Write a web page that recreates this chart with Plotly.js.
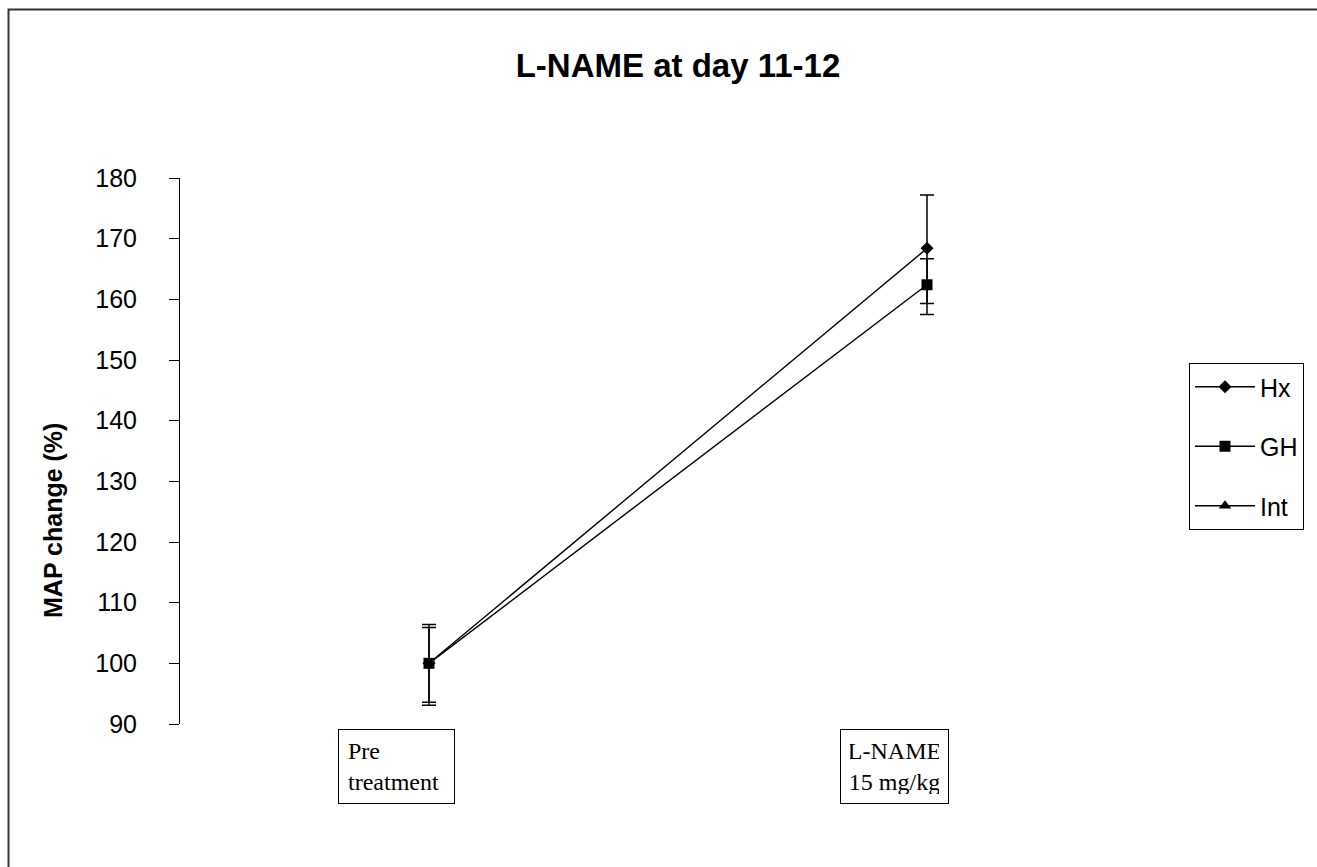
<!DOCTYPE html>
<html>
<head>
<meta charset="utf-8">
<script src="https://cdn.plot.ly/plotly-3.0.1.min.js"></script>
<style>
  html, body { margin: 0; padding: 0; background: #fff; }
  #chart { width: 1317px; height: 867px; }
</style>
</head>
<body>
<div id="chart"></div>
<script>
// ---- data ----
const categories = ["Pre treatment", "L-NAME 15 mg/kg"];
const categoryLabels = ["Pre<br>treatment", "L-NAME<br>15 mg/kg"];
const categoryAlign = ["left", "center"];

const seriesNames = ["Hx", "GH", "Int"];
const hxValues = [100, 168.4];
const hxErrPlus = [6.4, 8.8];
const hxErrMinus = [6.4, 9.1];

const ghValues = [100, 162.4];
const ghErrPlus = [5.9, 4.3];
const ghErrMinus = [6.9, 4.9];

const intValues = [null, null];   // no visible points for Int in the reference

const yTickValues = [90, 100, 110, 120, 130, 140, 150, 160, 170, 180];

// ---- chart ----
const sans = "Liberation Sans, Arial, sans-serif";
const serif = "Liberation Serif, Times New Roman, serif";

function trace(name, y, symbol, size, ep, em, group) {
  const t = {
    type: "scatter",
    mode: "lines+markers",
    name: name,
    x: categories,
    y: y,
    legendgroup: group,
    line: { color: "#000", width: 1.4 },
    marker: { symbol: symbol, size: size, color: "#000" },
    cliponaxis: false
  };
  if (ep) {
    t.error_y = {
      type: "data", symmetric: false, array: ep, arrayminus: em,
      color: "#000", thickness: 1.5, width: 7
    };
  }
  return t;
}

const data = [
  trace(seriesNames[0], hxValues, "diamond", 10, hxErrPlus, hxErrMinus, "g1"),
  trace(seriesNames[1], ghValues, "square", 11, ghErrPlus, ghErrMinus, "g2"),
  trace(seriesNames[2], intValues, "triangle-up", 11, null, null, "g3")
];

const annotations = categories.map((c, i) => ({
  x: c, xref: "x",
  y: 0, yref: "paper",
  yanchor: "top", xanchor: "center",
  xshift: -33, yshift: -5,
  text: categoryLabels[i],
  align: categoryAlign[i],
  showarrow: false,
  font: { family: serif, size: 24, color: "#000" },
  bordercolor: "#000", borderwidth: 1, borderpad: 9,
  width: i === 0 ? 97 : 89,
  height: 55,
  bgcolor: "#fff"
}));

annotations.push({
  text: "<b>MAP change (%)</b>",
  textangle: -90,
  x: (53 - 180) / 996, xref: "paper", xanchor: "center",
  y: (724 - 521) / 546, yref: "paper", yanchor: "middle",
  showarrow: false,
  font: { family: sans, size: 25, color: "#000" }
});

const layout = {
  width: 1317, height: 867,
  paper_bgcolor: "#fff", plot_bgcolor: "#fff",
  margin: { l: 180, r: 141, t: 178, b: 143, pad: 0 },
  showlegend: true,
  title: {
    text: "<b>L-NAME at day 11-12</b>",
    font: { family: sans, size: 33, color: "#000" },
    x: 0.5, xref: "paper", xanchor: "center",
    y: 1 - 65 / 867, yref: "container", yanchor: "middle"
  },
  xaxis: {
    type: "category",
    range: [-0.5, 1.5],
    showticklabels: false, showgrid: false, zeroline: false, showline: false,
    ticks: "", fixedrange: true
  },
  yaxis: {
    range: [90, 180],
    tickvals: yTickValues,
    ticks: "outside", ticklen: 10, tickwidth: 1, tickcolor: "#000",
    showline: true, linecolor: "#000", linewidth: 1,
    showgrid: false, zeroline: false,
    ticklabelstandoff: 27,
    tickfont: { family: sans, size: 25, color: "#000" },
    automargin: false
  },
  legend: {
    x: (1189 - 180) / 996, xanchor: "left",
    y: (724 - 363) / 546, yanchor: "top",
    bordercolor: "#000", borderwidth: 1, bgcolor: "#fff",
    font: { family: sans, size: 25, color: "#000" },
    traceorder: "grouped", tracegroupgap: 24,
    itemwidth: 60
  },
  annotations: annotations,
  shapes: [{
    type: "rect", xref: "paper", yref: "paper",
    x0: (8.5 - 180) / 996, x1: (1340 - 180) / 996,
    y0: (724 - 880) / 546, y1: (724 - 9.5) / 546,
    line: { color: "#333", width: 2 }, fillcolor: "rgba(0,0,0,0)", layer: "below"
  }]
};

Plotly.newPlot("chart", data, layout, { staticPlot: true, displayModeBar: false });
</script>
</body>
</html>
